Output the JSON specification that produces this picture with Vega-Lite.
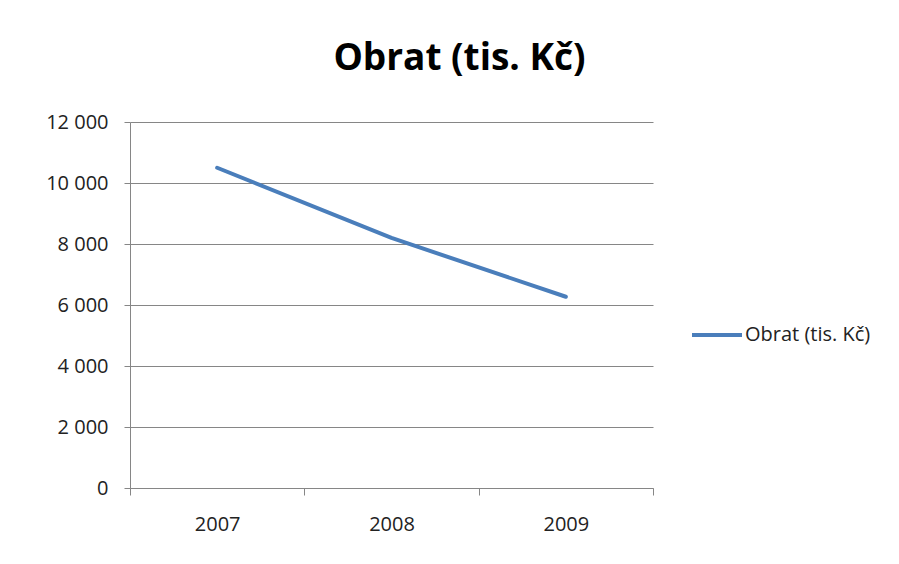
{
  "$schema": "https://vega.github.io/schema/vega-lite/v6.json",
  "width": 523,
  "height": 366,
  "autosize": {"type": "none"},
  "padding": {"left": 130, "top": 122, "right": 246, "bottom": 76},
  "background": "white",
  "title": {
    "text": "Obrat (tis. Kč)",
    "fontSize": 37,
    "font": "Open Sans",
    "fontWeight": "bold",
    "color": "#000000",
    "anchor": "middle",
    "dx": 68,
    "offset": 34
  },
  "data": {
    "values": [
      {"rok": "2007", "obrat": 10500, "serie": "Obrat (tis. Kč)"},
      {"rok": "2008", "obrat": 8200, "serie": "Obrat (tis. Kč)"},
      {"rok": "2009", "obrat": 6270, "serie": "Obrat (tis. Kč)"}
    ]
  },
  "mark": {"type": "line", "strokeWidth": 4, "strokeCap": "round", "strokeJoin": "round"},
  "encoding": {
    "x": {
      "field": "rok",
      "type": "nominal",
      "scale": {"type": "band", "paddingInner": 0, "paddingOuter": 0},
      "bandPosition": 0.5,
      "axis": {
        "title": null,
        "labelAngle": 0,
        "tickBand": "extent",
        "grid": false,
        "domainColor": "#868686",
        "tickColor": "#868686",
        "tickSize": 7,
        "labelPadding": 19,
        "labelFont": "Open Sans",
        "labelFontSize": 20,
        "labelColor": "#222222"
      }
    },
    "y": {
      "field": "obrat",
      "type": "quantitative",
      "scale": {"domain": [0, 12000], "nice": false},
      "axis": {
        "title": null,
        "values": [0, 2000, 4000, 6000, 8000, 10000, 12000],
        "labelExpr": "replace(format(datum.value, ','), ',', ' ')",
        "grid": true,
        "gridColor": "#868686",
        "domainColor": "#868686",
        "tickColor": "#868686",
        "tickSize": 6,
        "labelPadding": 16,
        "labelFont": "Open Sans",
        "labelFontSize": 20,
        "labelColor": "#222222"
      }
    },
    "color": {
      "field": "serie",
      "type": "nominal",
      "scale": {"range": ["#4a7ebb"]},
      "legend": {
        "title": null,
        "orient": "none",
        "legendX": 560,
        "legendY": 186,
        "symbolType": "stroke",
        "symbolSize": 2500,
        "symbolStrokeWidth": 4,
        "labelFont": "Open Sans",
        "labelFontSize": 20,
        "labelColor": "#222222",
        "labelOffset": 1
      }
    }
  },
  "config": {"view": {"stroke": null}}
}
